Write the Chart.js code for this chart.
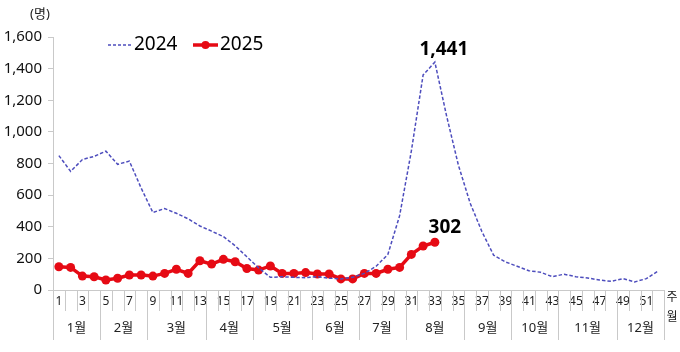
<!DOCTYPE html>
<html>
<head>
<meta charset="utf-8">
<script src="https://cdn.jsdelivr.net/npm/chart.js@4"></script>
<style>
  html, body { margin: 0; padding: 0; background: #fff; }
  #wrap { width: 680px; height: 352px; }
</style>
</head>
<body>
<div id="wrap"><canvas id="chart" width="680" height="352"></canvas></div>
<script>
// week labels (x axis)
const weeks = ['1','2','3','4','5','6','7','8','9','10','11','12','13','14','15','16','17','18','19','20',
  '21','22','23','24','25','26','27','28','29','30','31','32','33','34','35','36','37','38','39','40',
  '41','42','43','44','45','46','47','48','49','50','51','52'];

// month groups under the week labels
const months = ['1월','2월','3월','4월','5월','6월','7월','8월','9월','10월','11월','12월'];
const monthWeeks = [4, 4, 5, 4, 5, 4, 4, 5, 4, 4, 5, 4];

// y ticks
const yMax = 1600;
const yStep = 200;

// series
const cases2024 = [850, 750, 825, 845, 878, 795, 815, 645, 490, 515, 485, 450, 405, 372, 338, 280, 210,
  140, 80, 84, 80, 78, 84, 75, 70, 80, 105, 150, 225, 470, 880, 1360, 1441, 1100, 790, 550, 370,
  220, 178, 150, 122, 112, 84, 100, 84, 76, 63, 55, 72, 51, 72, 120];
const cases2025 = [147, 143, 88, 84, 63, 74, 95, 95, 88, 105, 131, 105, 185, 164, 194, 179, 136,
  126, 152, 105, 105, 110, 101, 101, 70, 70, 105, 105, 131, 143, 225, 278, 302];

const FONT = "'Noto Sans', 'Noto Sans CJK KR', sans-serif";
const BLUE = '#4d4dbd';
const RED = '#e60a14';
const GRID = '#c9c9c9';

// draws the category separators, month row, unit text, legend and value labels
const decorations = {
  id: 'decorations',
  afterDraw(chart) {
    const ctx = chart.ctx;
    const x = chart.scales.x;
    const area = chart.chartArea;
    const w = (x.right - x.left) / weeks.length;
    const base = area.bottom;

    ctx.save();
    ctx.strokeStyle = GRID;
    ctx.lineWidth = 1;

    // month boundaries (set of category indices)
    const bounds = new Set([0]);
    let acc = 0;
    monthWeeks.forEach(n => { acc += n; bounds.add(acc); });

    for (let i = 0; i <= weeks.length; i++) {
      const px = Math.round(x.left + i * w) + 0.5;
      const len = bounds.has(i) ? 50 : 21;
      ctx.beginPath();
      ctx.moveTo(px, base);
      ctx.lineTo(px, base + len);
      ctx.stroke();
    }

    // month labels
    ctx.fillStyle = '#222';
    ctx.font = '13px ' + FONT;
    ctx.textAlign = 'center';
    ctx.textBaseline = 'middle';
    let start = 0;
    months.forEach((m, k) => {
      const mid = x.left + (start + monthWeeks[k] / 2) * w;
      ctx.fillText(m, mid, base + 38);
      start += monthWeeks[k];
    });

    // 주 / 월 at the end of the axis
    ctx.font = '12px ' + FONT;
    ctx.fillText('주', x.right + 8, base + 8);
    ctx.fillText('월', x.right + 8, base + 28);

    // unit
    ctx.font = '13px ' + FONT;
    ctx.fillText('(명)', 40, 14);

    // legend
    const ly = 45;
    ctx.strokeStyle = BLUE;
    ctx.lineWidth = 1.5;
    ctx.setLineDash([3, 2]);
    ctx.beginPath();
    ctx.moveTo(108, ly);
    ctx.lineTo(133, ly);
    ctx.stroke();
    ctx.setLineDash([]);
    ctx.strokeStyle = RED;
    ctx.lineWidth = 3.5;
    ctx.beginPath();
    ctx.moveTo(193, ly);
    ctx.lineTo(218, ly);
    ctx.stroke();
    ctx.fillStyle = RED;
    ctx.beginPath();
    ctx.arc(205.5, ly, 4, 0, Math.PI * 2);
    ctx.fill();
    ctx.fillStyle = '#000';
    ctx.font = '19px ' + FONT;
    ctx.textAlign = 'left';
    ctx.fillText('2024', 134, ly);
    ctx.fillText('2025', 220, ly);

    // value labels for the peak and the latest point
    ctx.font = 'bold 19px ' + FONT;
    ctx.textAlign = 'center';
    const m24 = chart.getDatasetMeta(0).data;
    const peakIdx = cases2024.indexOf(Math.max(...cases2024));
    const pk = m24[peakIdx];
    ctx.fillText(cases2024[peakIdx].toLocaleString('en-US'), pk.x + 9, pk.y - 13);
    const m25 = chart.getDatasetMeta(1).data;
    const lastIdx = cases2025.length - 1;
    const lp = m25[lastIdx];
    ctx.fillText(cases2025[lastIdx].toLocaleString('en-US'), lp.x + 10, lp.y - 15);
    ctx.restore();
  }
};

new Chart(document.getElementById('chart'), {
  type: 'line',
  data: {
    labels: weeks,
    datasets: [{
      label: '2024',
      data: cases2024,
      borderColor: BLUE,
      borderWidth: 1.5,
      borderDash: [3.5, 2],
      pointRadius: 0,
      tension: 0,
      fill: false,
    }, {
      label: '2025',
      data: cases2025,
      borderColor: RED,
      backgroundColor: RED,
      borderWidth: 3.5,
      pointRadius: 4.5,
      pointBackgroundColor: RED,
      pointBorderWidth: 0,
      tension: 0,
      fill: false,
    }],
  },
  options: {
    responsive: false,
    animation: false,
    layout: { padding: { top: 37, right: 16, left: 0, bottom: 0 } },
    plugins: {
      legend: { display: false },
      tooltip: { enabled: false },
    },
    scales: {
      x: {
        type: 'category',
        offset: true,
        grid: { display: false, drawTicks: false },
        border: { display: true, color: GRID, width: 1 },
        ticks: {
          autoSkip: false,
          maxRotation: 0,
          padding: 4,
          color: '#222',
          font: { family: FONT, size: 12 },
          callback: (v, i) => (i % 2 === 0 ? weeks[i] : ''),
        },
        afterFit: s => { s.height = 62; },
      },
      y: {
        min: 0,
        max: yMax,
        grid: { drawOnChartArea: false, drawTicks: true, tickLength: 5, color: GRID },
        border: { display: true, color: GRID, width: 1 },
        ticks: {
          stepSize: yStep,
          padding: 6,
          color: '#111',
          font: { family: FONT, size: 15 },
          callback: v => v.toLocaleString('en-US'),
        },
        afterFit: s => { s.width = 53; },
      },
    },
  },
  plugins: [decorations],
});
</script>
</body>
</html>
